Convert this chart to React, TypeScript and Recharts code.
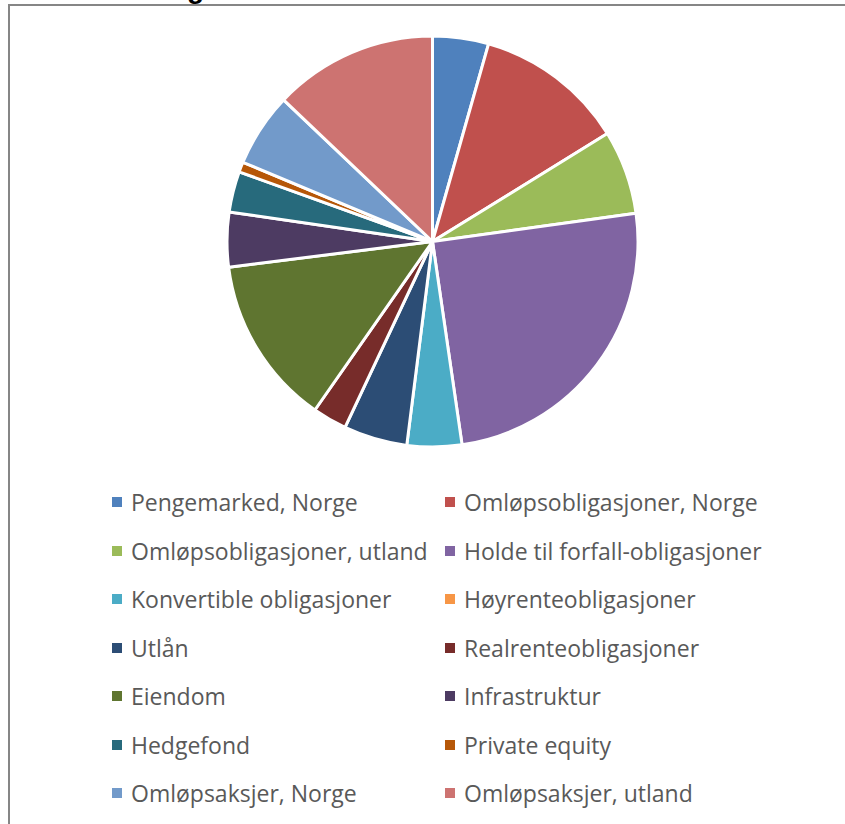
import { Cell, Pie, PieChart } from "recharts";

const categories = [
  "Pengemarked, Norge",
  "Omløpsobligasjoner, Norge",
  "Omløpsobligasjoner, utland",
  "Holde til forfall-obligasjoner",
  "Konvertible obligasjoner",
  "Høyrenteobligasjoner",
  "Utlån",
  "Realrenteobligasjoner",
  "Eiendom",
  "Infrastruktur",
  "Hedgefond",
  "Private equity",
  "Omløpsaksjer, Norge",
  "Omløpsaksjer, utland",
];

// share of portfolio, percent
const shares = [4.4, 11.8, 6.6, 24.9, 4.3, 0, 5.0, 2.7, 13.3, 4.3, 3.2, 0.8, 5.8, 12.9];

const colors = [
  "#4f81bd",
  "#c0504d",
  "#9bbb59",
  "#8064a2",
  "#4bacc6",
  "#f79646",
  "#2c4d75",
  "#772c2a",
  "#5f7530",
  "#4d3b62",
  "#276a7c",
  "#b65708",
  "#729aca",
  "#cd7371",
];

const data = categories.map((name, i) => ({ name, value: shares[i] }));

const font = "'Open Sans', 'Noto Sans', sans-serif";

function LegendGrid() {
  return (
    <div style={{ position: "absolute", left: 0, top: 0 }}>
      {categories.map((name, i) => {
        const col = i % 2;
        const row = Math.floor(i / 2);
        return (
          <div
            key={name}
            style={{
              position: "absolute",
              left: col === 0 ? 112 : 445,
              top: 502 + row * 48.5 - 16,
              height: 32,
              display: "flex",
              alignItems: "center",
              whiteSpace: "nowrap",
            }}
          >
            <span
              style={{
                width: 10,
                height: 10,
                background: colors[i],
                marginRight: 9,
                flex: "none",
              }}
            />
            <span style={{ fontFamily: font, fontSize: 23, color: "#595959" }}>{name}</span>
          </div>
        );
      })}
    </div>
  );
}

export default function App() {
  return (
    <div
      style={{
        position: "fixed",
        left: 0,
        top: 0,
        width: 845,
        height: 824,
        overflow: "hidden",
        background: "#fff",
      }}
    >
      <div
        style={{
          position: "absolute",
          left: 8,
          top: 4,
          width: 900,
          height: 900,
          border: "2px solid #868686",
          boxSizing: "border-box",
        }}
      />
      <div
        style={{
          position: "absolute",
          right: 845 - 204,
          top: -27,
          fontFamily: "'Liberation Sans', sans-serif",
          fontWeight: 700,
          fontSize: 28,
          lineHeight: "32px",
          color: "#000",
          whiteSpace: "nowrap",
        }}
      >
        Fordeling
      </div>
      <div style={{ position: "absolute", left: 0, top: 0 }}>
        <PieChart width={845} height={824} margin={{ top: 0, right: 0, bottom: 0, left: 0 }}>
          <Pie
            data={data}
            dataKey="value"
            nameKey="name"
            cx={432.5}
            cy={241.5}
            outerRadius={205.5}
            startAngle={90}
            endAngle={-270}
            stroke="#fff"
            strokeWidth={3}
            label={false}
            labelLine={false}
            isAnimationActive={false}
          >
            {data.map((entry, i) => (
              <Cell key={entry.name} fill={colors[i]} />
            ))}
          </Pie>
        </PieChart>
      </div>
      <LegendGrid />
    </div>
  );
}
